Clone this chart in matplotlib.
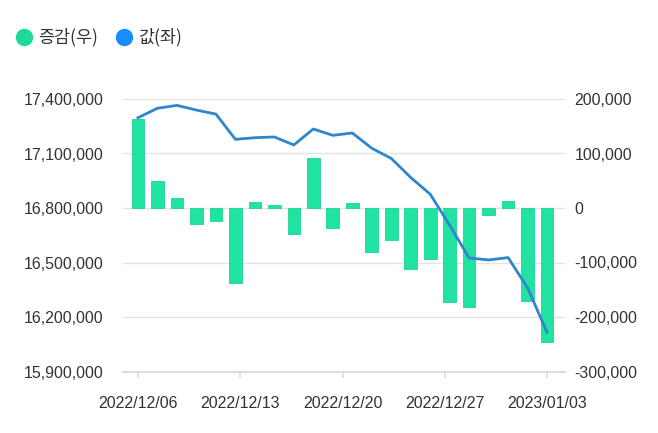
import matplotlib
matplotlib.use("Agg")
import matplotlib.pyplot as plt
from matplotlib.lines import Line2D
from matplotlib.ticker import FuncFormatter
import numpy as np

plt.rcParams['font.family'] = ['Liberation Sans', 'DejaVu Sans']

# ---- data ----
x_labels = ["2022/12/06", "2022/12/13", "2022/12/20", "2022/12/27", "2023/01/03"]
change = [163000, 50000, 18000, -29000, -24000, -138000, 11000, 5000, -47000, 91000,
          -36000, 10000, -80000, -59000, -112000, -94000, -172000, -181000, -12000,
          13000, -170000, -246000]
value = [17297000, 17349000, 17365000, 17339000, 17317000, 17178000, 17187000, 17191000,
         17147000, 17235000, 17200000, 17213000, 17129000, 17073000, 16968000, 16876000,
         16705000, 16525000, 16514000, 16527000, 16360000, 16115000]
left_ticks = [15900000, 16200000, 16500000, 16800000, 17100000, 17400000]
right_ticks = [-300000, -200000, -100000, 0, 100000, 200000]
legend_labels = ["증감(우)", "값(좌)"]

n = len(change)
idx = np.arange(n)

fig = plt.figure(figsize=(6.58, 4.33), dpi=100)
ax = fig.add_axes([123/658, 1-371.5/433, (565-123)/658, (371.5-99)/433])
ax2 = ax.twinx()

grid_c = '#e3e3e3'
txt_c = '#333333'
bar_c = '#20e2a1'
line_c = '#2e86cc'
fmt = FuncFormatter(lambda v, p: f"{int(v):,}")

# bars on right axis
ax.bar(idx, change, width=0.65, color=bar_c, edgecolor='#1cd496', linewidth=0.6, zorder=2)
ax.set_ylim(right_ticks[0], right_ticks[-1])
ax.set_yticks(right_ticks)
ax.yaxis.set_major_formatter(fmt)
ax.yaxis.set_ticks_position('right')
ax.yaxis.set_label_position('right')
ax.tick_params(axis='y', which='both', left=False, labelleft=False, right=False, labelright=True,
               length=0, pad=7, labelcolor=txt_c, labelsize=11.5)
ax.set_axisbelow(True)
ax.grid(axis='y', color=grid_c, linewidth=1.0)
ax.set_xlim(-0.77, n - 1 + 0.92)

pos = np.linspace(0, n - 1, len(x_labels))
ax.set_xticks(pos)
ax.set_xticklabels(x_labels)
for s in ['top', 'left', 'right']:
    ax.spines[s].set_visible(False)
ax.spines['bottom'].set_color('#dcdcdc')
ax.spines['bottom'].set_linewidth(1.5)
ax.tick_params(axis='x', colors='#dcdcdc', length=4, width=1.2, pad=14, labelcolor=txt_c, labelsize=11.5)

# line on left axis
ax2.plot(idx, value, color=line_c, linewidth=2.0, zorder=3, solid_joinstyle='round')
ax2.set_ylim(left_ticks[0], left_ticks[-1])
ax2.set_yticks(left_ticks)
ax2.yaxis.set_major_formatter(fmt)
ax2.tick_params(axis='y', which='both', left=False, labelleft=True, right=False, labelright=False,
                length=0, pad=14, labelcolor=txt_c, labelsize=11.5)
for s in ['top', 'left', 'right', 'bottom']:
    ax2.spines[s].set_visible(False)

# legend (manual)
ly = 1 - 37/433
fig.add_artist(Line2D([24/658], [ly], marker='o', markersize=12.5, color='#1ed99a',
                      markeredgewidth=0, transform=fig.transFigure))
fig.text(38/658, ly, legend_labels[0], fontsize=12.5, color=txt_c, va='center', ha='left',
         family=['Noto Sans CJK KR', 'DejaVu Sans'])
fig.add_artist(Line2D([124/658], [ly], marker='o', markersize=12.5, color='#1a8cff',
                      markeredgewidth=0, transform=fig.transFigure))
fig.text(138/658, ly, legend_labels[1], fontsize=12.5, color=txt_c, va='center', ha='left',
         family=['Noto Sans CJK KR', 'DejaVu Sans'])

fig.savefig("out.png", dpi=100)
